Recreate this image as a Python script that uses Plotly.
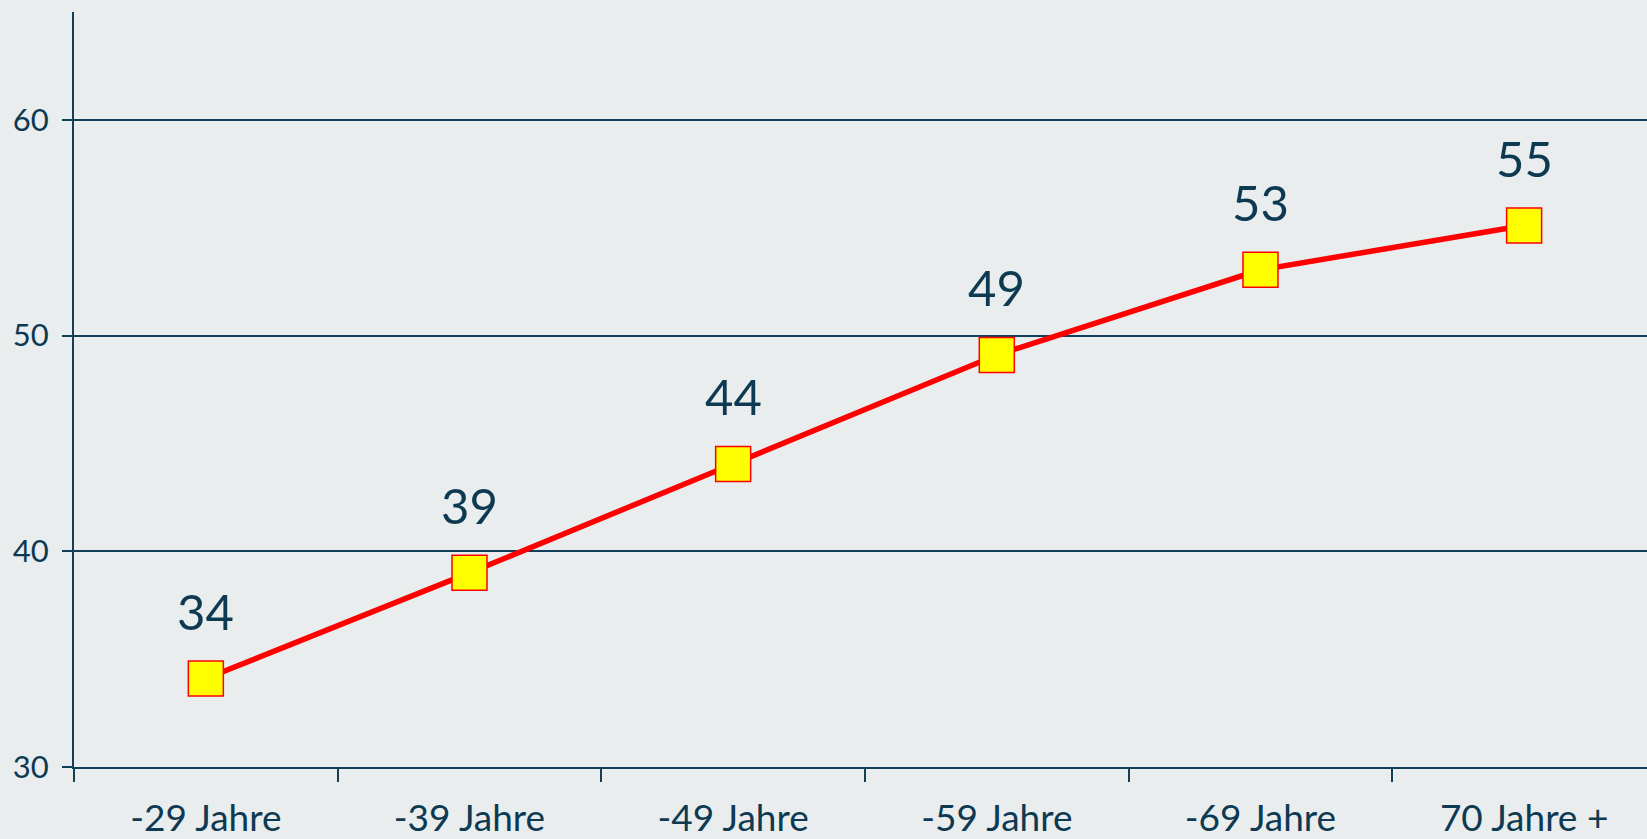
import plotly.graph_objects as go

categories = ["-29 Jahre", "-39 Jahre", "-49 Jahre", "-59 Jahre", "-69 Jahre", "70 Jahre +"]
values = [34.1, 39.0, 44.05, 49.1, 53.05, 55.1]
labels = ["34", "39", "44", "49", "53", "55"]
y_ticks = [30, 40, 50, 60]

NAVY = "#123f58"
TEXT = "#0d3a52"
BG = "#e9edee"
FONT = "Lato"

fig = go.Figure()
fig.add_trace(go.Scatter(
    x=categories, y=values, mode="lines+markers",
    line=dict(color="#ff0000", width=5.5),
    marker=dict(symbol="square", size=35, color="#ffff00",
                line=dict(color="#ff0000", width=1.5)),
    hoverinfo="skip", showlegend=False,
))

for c, v, t in zip(categories, values, labels):
    fig.add_annotation(x=c, y=v, text=t, showarrow=False, yanchor="bottom",
                       yshift=37, font=dict(family=FONT, size=49, color=TEXT))

fig.update_layout(
    width=1647, height=839,
    margin=dict(l=74, r=0, t=12, b=72, autoexpand=False),
    paper_bgcolor=BG, plot_bgcolor=BG,
    font=dict(family=FONT, color=TEXT),
)
fig.update_xaxes(
    type="category", range=[-0.5, 5.466], automargin=False,
    showline=True, linecolor=NAVY, linewidth=2,
    ticks="outside", tickson="boundaries", ticklen=13, tickwidth=2, tickcolor=NAVY,
    showgrid=False, zeroline=False,
    tickfont=dict(family=FONT, size=37, color=TEXT),
    ticklabelstandoff=18,
)
fig.update_yaxes(
    range=[30, 65], tickvals=y_ticks, automargin=False,
    showline=True, linecolor=NAVY, linewidth=2,
    ticks="outside", ticklen=10, tickwidth=2, tickcolor=NAVY,
    showgrid=True, gridcolor=NAVY, gridwidth=2, zeroline=False,
    tickfont=dict(family=FONT, size=31, color=TEXT),
    ticklabelstandoff=7,
)

fig.write_html("out.html", config={"displayModeBar": False},
               post_script="document.body.style.margin='0';document.body.style.overflow='hidden';")
